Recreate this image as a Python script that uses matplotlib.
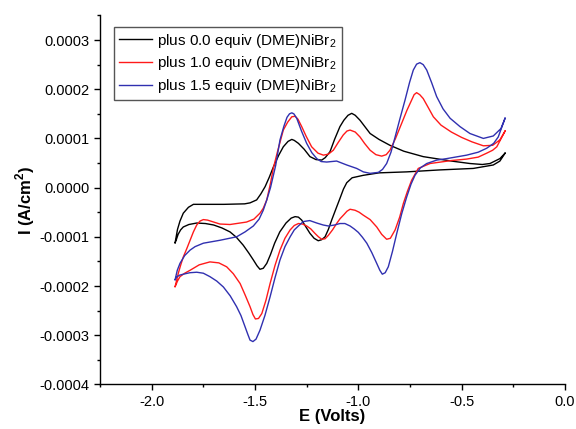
import matplotlib
matplotlib.use("Agg")
import matplotlib.pyplot as plt
from matplotlib.ticker import MultipleLocator, FormatStrFormatter

plt.rcParams['font.family'] = ['Liberation Sans', 'DejaVu Sans']
plt.rcParams['mathtext.fontset'] = 'custom'
plt.rcParams['mathtext.rm'] = 'Liberation Sans'
plt.rcParams['mathtext.bf'] = 'Liberation Sans:bold'
plt.rcParams['axes.unicode_minus'] = False

labels = ["plus 0.0 equiv (DME)NiBr$_2$",
          "plus 1.0 equiv (DME)NiBr$_2$",
          "plus 1.5 equiv (DME)NiBr$_2$"]
colors = ["#000000", "#ff1a1a", "#3030b0"]

# currents in units of 1e-4 A/cm^2
E0 = [-0.290, -0.315, -0.363, -0.40, -0.46, -0.55, -0.686, -0.78, -0.847, -0.90, -0.943, -0.992,
      -1.015, -1.032, -1.050, -1.070, -1.089, -1.115, -1.137, -1.160, -1.177, -1.205, -1.234, -1.262,
      -1.290, -1.310, -1.322, -1.340, -1.363, -1.385, -1.411, -1.431, -1.451, -1.472, -1.492, -1.524,
      -1.55, -1.65, -1.75, -1.798, -1.822, -1.847, -1.863, -1.875, -1.887,
      -1.880, -1.872, -1.860, -1.847, -1.820, -1.782, -1.74, -1.70, -1.66, -1.621, -1.59, -1.557,
      -1.530, -1.508, -1.490, -1.476, -1.460, -1.443, -1.425, -1.405, -1.380, -1.350, -1.325,
      -1.306, -1.290, -1.274, -1.255, -1.234, -1.214, -1.194, -1.178, -1.161, -1.145, -1.129,
      -1.110, -1.089, -1.072, -1.056, -1.03, -0.976, -0.90, -0.766, -0.605, -0.444, -0.347, -0.315,
      -0.290]
I0 = [0.70, 0.59, 0.49, 0.47, 0.49, 0.54, 0.63, 0.74, 0.86, 0.98, 1.10, 1.37,
      1.47, 1.51, 1.47, 1.37, 1.24, 0.98, 0.73, 0.61, 0.56, 0.57, 0.63, 0.78,
      0.90, 0.96, 0.98, 0.94, 0.83, 0.66, 0.42, 0.21, 0.02, -0.13, -0.25, -0.31,
      -0.33, -0.34, -0.34, -0.34, -0.40, -0.52, -0.68, -0.85, -1.13,
      -1.05, -0.95, -0.86, -0.80, -0.75, -0.72, -0.73, -0.76, -0.82, -0.90, -1.01, -1.17,
      -1.33, -1.47, -1.59, -1.66, -1.64, -1.54, -1.36, -1.13, -0.90, -0.72, -0.62,
      -0.59, -0.60, -0.66, -0.79, -0.93, -1.03, -1.08, -1.06, -1.00, -0.85, -0.66,
      -0.45, -0.22, -0.03, 0.10, 0.20, 0.25, 0.30, 0.32, 0.36, 0.39, 0.46, 0.54,
      0.70]

E1 = [-0.290, -0.315, -0.35, -0.395, -0.45, -0.50, -0.55, -0.60, -0.637, -0.662, -0.686, -0.703,
      -0.718, -0.730, -0.742, -0.765, -0.790, -0.820, -0.847, -0.865, -0.887, -0.915, -0.943, -0.970,
      -0.992, -1.015, -1.040, -1.055, -1.073, -1.097, -1.121, -1.145, -1.169, -1.195, -1.226, -1.252,
      -1.274, -1.292, -1.306, -1.322, -1.342, -1.363, -1.39, -1.411, -1.425, -1.443, -1.460, -1.476,
      -1.505, -1.541, -1.621, -1.67, -1.70, -1.730, -1.750, -1.766, -1.782, -1.798, -1.814, -1.830,
      -1.847, -1.860, -1.871, -1.887,
      -1.875, -1.863, -1.840, -1.814, -1.77, -1.718, -1.675, -1.637, -1.605, -1.572, -1.548, -1.524,
      -1.510, -1.498, -1.483, -1.467, -1.447, -1.427, -1.403, -1.379, -1.355, -1.330, -1.310, -1.290,
      -1.270, -1.250, -1.230, -1.210, -1.193, -1.177, -1.161, -1.145, -1.125, -1.105, -1.088, -1.070,
      -1.055, -1.040, -1.016, -0.996, -0.976, -0.943, -0.911, -0.887, -0.863, -0.845, -0.822, -0.800,
      -0.782, -0.762, -0.742, -0.710, -0.653, -0.55, -0.476, -0.420, -0.379, -0.350, -0.330, -0.290]
I1 = [1.15, 0.97, 0.86, 0.85, 0.93, 1.02, 1.13, 1.27, 1.44, 1.63, 1.81, 1.89,
      1.93, 1.89, 1.78, 1.57, 1.31, 1.00, 0.76, 0.67, 0.64, 0.67, 0.76, 0.90,
      1.03, 1.13, 1.17, 1.15, 1.07, 0.92, 0.76, 0.68, 0.66, 0.70, 0.83, 1.04,
      1.24, 1.39, 1.45, 1.44, 1.33, 1.17, 0.75, 0.40, 0.09, -0.25, -0.42, -0.52,
      -0.64, -0.70, -0.75, -0.74, -0.70, -0.66, -0.65, -0.68, -0.76, -0.90, -1.07, -1.24,
      -1.41, -1.58, -1.74, -2.02,
      -1.90, -1.81, -1.74, -1.68, -1.57, -1.51, -1.53, -1.61, -1.75, -1.95, -2.18, -2.42,
      -2.58, -2.67, -2.66, -2.56, -2.29, -1.95, -1.58, -1.27, -1.03, -0.86, -0.77, -0.73,
      -0.74, -0.78, -0.84, -0.93, -1.00, -1.05, -1.04, -0.97, -0.86, -0.73, -0.63, -0.55,
      -0.48, -0.44, -0.46, -0.50, -0.56, -0.65, -0.80, -0.95, -1.05, -1.03, -0.86, -0.60,
      -0.32, -0.07, 0.15, 0.39, 0.49, 0.55, 0.58, 0.62, 0.70, 0.76, 0.83, 1.15]

E2 = [-0.290, -0.310, -0.347, -0.395, -0.460, -0.508, -0.556, -0.590, -0.621, -0.645, -0.669, -0.686,
      -0.702, -0.718, -0.734, -0.752, -0.774, -0.800, -0.822, -0.842, -0.863, -0.883, -0.903, -0.943,
      -0.976, -1.008, -1.056, -1.105, -1.153, -1.180, -1.201, -1.225, -1.250, -1.275, -1.298, -1.312,
      -1.322, -1.333, -1.345, -1.360, -1.379, -1.40, -1.425, -1.443, -1.460, -1.480, -1.508, -1.548,
      -1.589, -1.669, -1.750, -1.790, -1.814, -1.840, -1.863, -1.876, -1.887,
      -1.880, -1.865, -1.847, -1.815, -1.782, -1.750, -1.718, -1.685, -1.653, -1.620, -1.589, -1.568,
      -1.548, -1.535, -1.524, -1.510, -1.495, -1.476, -1.452, -1.427, -1.403, -1.379, -1.355, -1.330,
      -1.310, -1.290, -1.266, -1.235, -1.201, -1.170, -1.145, -1.115, -1.089, -1.065, -1.040, -1.020,
      -1.000, -0.980, -0.959, -0.935, -0.911, -0.896, -0.884, -0.870, -0.855, -0.835, -0.814, -0.790,
      -0.766, -0.745, -0.726, -0.700, -0.669, -0.620, -0.572, -0.476, -0.420, -0.379, -0.345, -0.323,
      -0.290]
I2 = [1.41, 1.20, 1.05, 1.00, 1.10, 1.24, 1.41, 1.60, 1.85, 2.13, 2.39, 2.50,
      2.54, 2.51, 2.39, 2.14, 1.78, 1.38, 1.03, 0.72, 0.49, 0.37, 0.31, 0.29,
      0.32, 0.39, 0.46, 0.54, 0.52, 0.53, 0.59, 0.71, 0.90, 1.15, 1.41, 1.50,
      1.52, 1.50, 1.43, 1.25, 0.97, 0.45, 0.00, -0.25, -0.46, -0.64, -0.78, -0.90,
      -1.00, -1.07, -1.13, -1.20, -1.27, -1.38, -1.54, -1.68, -1.88,
      -1.82, -1.78, -1.76, -1.73, -1.72, -1.74, -1.81, -1.90, -2.02, -2.20, -2.42, -2.60,
      -2.83, -2.98, -3.10, -3.13, -3.08, -2.90, -2.60, -2.22, -1.83, -1.47, -1.20, -1.00,
      -0.86, -0.78, -0.69, -0.67, -0.72, -0.76, -0.78, -0.76, -0.73, -0.73, -0.78, -0.84,
      -0.91, -1.01, -1.13, -1.32, -1.54, -1.68, -1.76, -1.73, -1.61, -1.30, -0.93, -0.53,
      -0.19, 0.07, 0.25, 0.40, 0.49, 0.56, 0.59, 0.66, 0.72, 0.80, 0.90, 1.03,
      1.41]

scale = 1e-4
series = [(E0, I0), (E1, I1), (E2, I2)]

fig = plt.figure(figsize=(5.76, 4.29), dpi=100)
ax = fig.add_axes([0.1736, 0.104, 0.8073, 0.860])

for (E, I), c, lab in zip(series, colors, labels):
    ax.plot(E, [v * scale for v in I], color=c, lw=1.0, label=lab,
            solid_joinstyle='round')

ax.set_xlim(-2.25, 0.0)
ax.set_ylim(-0.0004, 0.00035)
ax.xaxis.set_major_locator(MultipleLocator(0.5))
ax.xaxis.set_minor_locator(MultipleLocator(0.25))
ax.yaxis.set_major_locator(MultipleLocator(0.0001))
ax.yaxis.set_minor_locator(MultipleLocator(0.00005))
ax.xaxis.set_major_formatter(FormatStrFormatter('%.1f'))
ax.yaxis.set_major_formatter(FormatStrFormatter('%.4f'))
ax.tick_params(which='major', direction='out', length=4, width=1, labelsize=10.5)
ax.tick_params(which='minor', direction='out', length=2.5, width=1)
ax.spines['top'].set_visible(False)
ax.spines['right'].set_visible(False)
for s in ['left', 'bottom']:
    ax.spines[s].set_linewidth(1.0)

ax.set_xlabel('E (Volts)', fontsize=12, fontweight='bold', labelpad=0)
ax.set_ylabel(r'I (A/cm$^\mathbf{2}$)', fontsize=12, fontweight='bold', labelpad=2)

leg = ax.legend(loc='upper left', bbox_to_anchor=(0.03, 0.968), borderaxespad=0,
                fancybox=False, framealpha=1, edgecolor='#555555', fontsize=11,
                handlelength=2.2, handletextpad=0.35, labelspacing=0.3, borderpad=0.3)
leg.get_frame().set_linewidth(1.0)

fig.savefig('out.png', dpi=100)
